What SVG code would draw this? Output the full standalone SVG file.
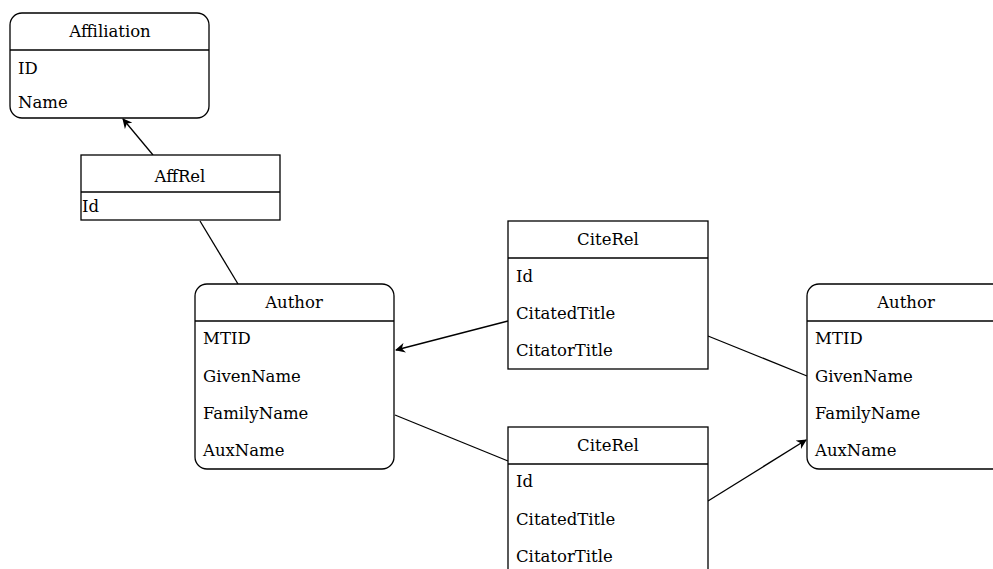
<svg xmlns="http://www.w3.org/2000/svg" width="993" height="569" viewBox="0 0 993 569">
<defs>
<marker id="arr" markerWidth="10" markerHeight="10" refX="9" refY="5" orient="auto" markerUnits="userSpaceOnUse">
<path d="M0,0 L10,5 L0,10 L3,5 Z" fill="#000"/>
</marker>
</defs>
<style>
.box{fill:#fff;stroke:#000;stroke-width:1.3}
.ln{stroke:#000;stroke-width:1.3;fill:none}
text{font-family:"DejaVu Serif",serif;font-size:16.5px;fill:#000}
.t{text-anchor:middle}
</style>
<g id="connectors">
<line class="ln" x1="153" y1="155" x2="123" y2="119" marker-end="url(#arr)"/>
<line class="ln" x1="200" y1="221" x2="238" y2="284"/>
<line class="ln" x1="508" y1="321" x2="396" y2="350" marker-end="url(#arr)"/>
<line class="ln" x1="395" y1="415" x2="508" y2="461"/>
<line class="ln" x1="708" y1="336" x2="807" y2="376"/>
<line class="ln" x1="708" y1="501" x2="806" y2="440" marker-end="url(#arr)"/>
</g>
<g id="affiliation">
<rect class="box" x="10" y="13" width="199" height="105" rx="12"/>
<line class="ln" x1="10" y1="50" x2="209" y2="50"/>
<text class="t" x="110" y="37">Affiliation</text>
<text x="18" y="74">ID</text>
<text x="18" y="108">Name</text>
</g>
<g id="affrel">
<rect class="box" x="81" y="155" width="199" height="65"/>
<line class="ln" x1="81" y1="192" x2="280" y2="192"/>
<text class="t" x="180" y="182">AffRel</text>
<text x="82" y="212">Id</text>
</g>
<g id="author1">
<rect class="box" x="195" y="284" width="199" height="185" rx="12"/>
<line class="ln" x1="195" y1="321" x2="394" y2="321"/>
<text class="t" x="294" y="308">Author</text>
<text x="203" y="344">MTID</text>
<text x="203" y="382">GivenName</text>
<text x="203" y="419">FamilyName</text>
<text x="203" y="456">AuxName</text>
</g>
<g id="citerel1">
<rect class="box" x="508" y="221" width="200" height="148"/>
<line class="ln" x1="508" y1="258" x2="708" y2="258"/>
<text class="t" x="608" y="245">CiteRel</text>
<text x="516" y="282">Id</text>
<text x="516" y="319">CitatedTitle</text>
<text x="516" y="356">CitatorTitle</text>
</g>
<g id="citerel2">
<rect class="box" x="508" y="427" width="200" height="160"/>
<line class="ln" x1="508" y1="464" x2="708" y2="464"/>
<text class="t" x="608" y="451">CiteRel</text>
<text x="516" y="487">Id</text>
<text x="516" y="525">CitatedTitle</text>
<text x="516" y="562">CitatorTitle</text>
</g>
<g id="author2">
<rect class="box" x="807" y="284" width="199" height="185" rx="12"/>
<line class="ln" x1="807" y1="321" x2="1006" y2="321"/>
<text class="t" x="906" y="308">Author</text>
<text x="815" y="344">MTID</text>
<text x="815" y="382">GivenName</text>
<text x="815" y="419">FamilyName</text>
<text x="815" y="456">AuxName</text>
</g>
</svg>
